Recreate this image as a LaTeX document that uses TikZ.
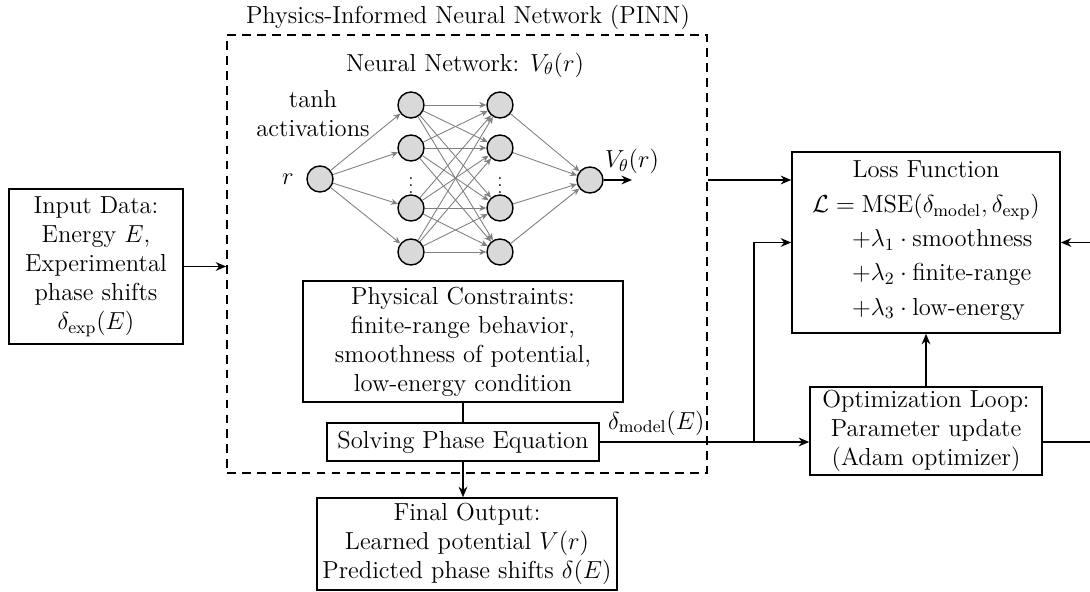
\RequirePackage{fix-cm}
\documentclass[tikz,border=0pt]{standalone}
\usepackage{amsmath}
\usepackage{tikz}
\usetikzlibrary{calc}
\usetikzlibrary{shapes.geometric, arrows.meta}
\tikzset{
  %---------------------------------------%
  %  Pipeline boxes                       %
  %---------------------------------------%
  % Box for the plain blocks
  box_block/.style={
    rectangle,
    align=center,
    draw=black,
    line width=0.9pt,
    fill=white,
    inner sep=2pt
  },
  % Dashed frame round the PINN
  box_pinn/.style={
    rectangle,
    draw=black,
    line width=0.9pt,
    dash pattern=on 5pt off 3.5pt
  },
  %----------------%
  %    Neurons     %
  %----------------%
  neuron/.style={
    circle,
    draw=black,
    line width=0.8pt,
    fill=gray!30,
    minimum size=0.52cm,
    inner sep=0pt
  },
  %----------------%
  %     Arrows     %
  %----------------%
  arrow/.style={draw,line width=0.9pt,->,>={Stealth[length=6pt,width=5pt]}},
  nn_arrow/.style={draw=gray,line width=0.5pt,->,>={Stealth[length=4pt,width=3.5pt]}},
}

\begin{document}
\begin{tikzpicture}[font=\fontsize{14}{16.5}\selectfont]
    \useasboundingbox (0, 0) rectangle (21.8, -11.84);

    %---------------%
    %  PINN frame   %
    %---------------%
    \node (pinn) [box_pinn, minimum width=9.6cm, minimum height=8.76cm] at (9.34, -5.08) {};
    \node (pinn_title) at (9.36, -0.34) {Physics-Informed Neural Network (PINN)};
    \node (nn_title) at (9.3, -1.3) {Neural Network: $V_\theta(r)$};

    %------------------%
    %  Neural network  %
    %------------------%
    % Input and output neurons
    \node (in) [neuron] at (6.4, -3.58) {};
    \node (out) [neuron] at (11.8, -3.6) {};
    \node (r_lbl) at (5.76, -3.58) {$r$};
    \node (tanh_lbl) [align=center] at (6.26, -2.28) {tanh\\activations};
    % Hidden layers
    \foreach \i/\y in {1/-2.1, 2/-2.96, 3/-4.16, 4/-5.04} {
      \node (h1_\i) [neuron] at (8.22, \y) {};
      \node (h2_\i) [neuron] at (10.0, \y) {};
    }
    \node (h1_dots) [font=\fontsize{11}{12}\selectfont] at (8.22, -3.6) {$\vdots$};
    \node (h2_dots) [font=\fontsize{11}{12}\selectfont] at (10.0, -3.6) {$\vdots$};
    % Weights
    \foreach \i in {1,...,4} {
      \draw [nn_arrow] (in) -- (h1_\i);
      \draw [nn_arrow] (h2_\i) -- (out);
      \foreach \j in {1,...,4}
        \draw [nn_arrow] (h1_\i) -- (h2_\j);
    }
    % Network output
    \coordinate (v_end) at (12.64, -3.6);
    \draw [arrow] (out) -- (v_end);
    \node (v_lbl) [above] at (v_end) {$V_\theta(r)$};

    %------------------------%
    %  Constraints / Solver  %
    %------------------------%
    \node (constr) [box_block, minimum width=6.4cm, minimum height=2.42cm] at (9.26, -6.83) {Physical Constraints:\\finite-range behavior,\\smoothness of potential,\\low-energy condition};
    \node (solve) [box_block, minimum width=5.44cm, minimum height=0.76cm] at (9.26, -8.84) {Solving Phase Equation};

    %-----------------%
    %  Outside boxes  %
    %-----------------%
    % Input data
    \node (input) [box_block, minimum width=3.48cm, minimum height=3.1cm] at (1.92, -5.33) {Input Data:\\Energy $E$,\\Experimental\\phase shifts\\$\delta_{\mathrm{exp}}(E)$};
    % Loss function
    \node (loss) [box_block, minimum width=5.36cm, minimum height=3.62cm] at (18.52, -4.85) {Loss Function\\[7pt]$\begin{aligned}
        \mathcal{L} &= \mathrm{MSE}(\delta_{\mathrm{model}}, \delta_{\mathrm{exp}})\\
        &\hphantom{=}\,{+}\lambda_1 \cdot \text{smoothness}\\
        &\hphantom{=}\,{+}\lambda_2 \cdot \text{finite-range}\\
        &\hphantom{=}\,{+}\lambda_3 \cdot \text{low-energy}
      \end{aligned}$};
    % Optimization loop
    \node (opt) [box_block, minimum width=4.64cm, minimum height=1.64cm] at (18.52, -8.62) {Optimization Loop:\\Parameter update\\(Adam optimizer)};
    % Final output
    \node (final) [box_block, minimum width=6.0cm, minimum height=1.84cm] at (9.34, -10.88) {Final Output:\\Learned potential $V(r)$\\Predicted phase shifts $\delta(E)$};

    %----------%
    %  Arrows  %
    %----------%
    % Input data --> PINN
    \draw [arrow] (input.east) -- (input.east -| pinn.west);
    % PINN --> Loss function
    \draw [arrow] (out.east -| pinn.east) -- (out.east -| loss.west);
    % Constraints --> Solver
    \draw [line width=0.9pt] (constr.south) -- (solve.north);
    % Solver --> Final output
    \draw [arrow] (solve.south) -- (solve.south |- final.north);
    % Solver --> Optimization loop
    \draw [arrow] (solve.east) -- node [pos=0.27, above] {$\delta_{\mathrm{model}}(E)$} (solve.east -| opt.west);
    % Solver --> Loss function
    \coordinate (split) at (15.08, -8.84);
    \draw [arrow] (split) |- (loss.west);
    % Optimization loop --> Loss function
    \draw [arrow] (opt.north) -- (loss.south);
    % Optimization loop --> Loss function (feedback)
    \coordinate (loop_corner) at (22.2, -8.84);
    \draw [arrow] (solve.east -| opt.east) -- (loop_corner) |- (loss.east);
  \end{tikzpicture}
\end{document}
